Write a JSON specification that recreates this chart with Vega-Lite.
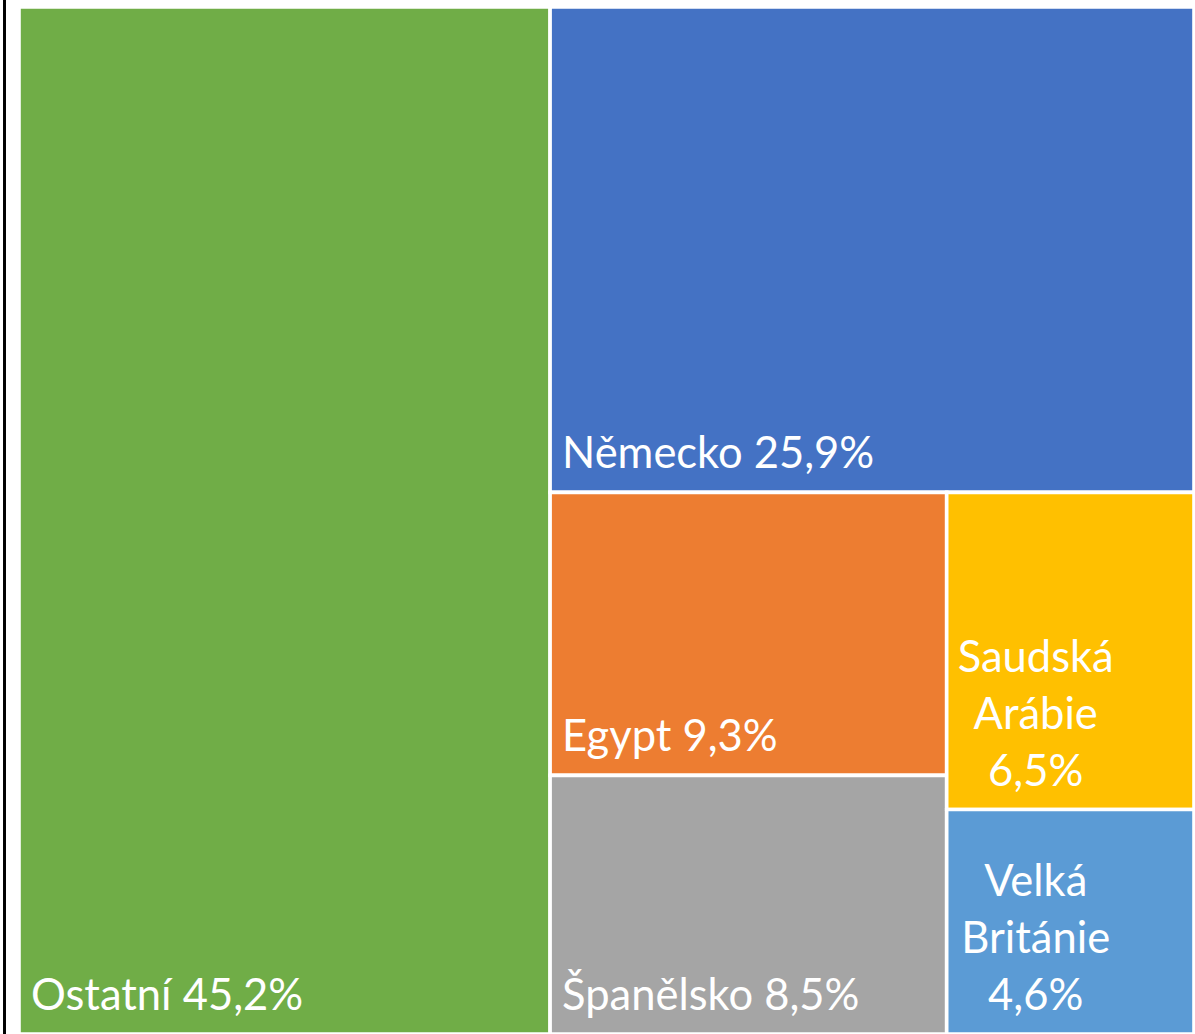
{
  "$schema": "https://vega.github.io/schema/vega-lite/v6.json",
  "width": 1175,
  "height": 1027,
  "autosize": {"type": "none"},
  "padding": {"left": 19, "top": 7, "right": 1, "bottom": 0},
  "background": "white",
  "config": {"view": {"stroke": null}},
  "data": {
    "values": [
      {"zeme": "Ostatní", "podil": 45.2, "poradi": 1, "sloupec": "A", "rada": "A", "blok": "A", "popisek": "Ostatní 45,2%"},
      {"zeme": "Německo", "podil": 25.9, "poradi": 2, "sloupec": "B", "rada": "B-horni", "blok": "B-horni", "popisek": "Německo 25,9%"},
      {"zeme": "Egypt", "podil": 9.3, "poradi": 3, "sloupec": "B", "rada": "B-dolni", "blok": "B-dolni-1", "popisek": "Egypt 9,3%"},
      {"zeme": "Španělsko", "podil": 8.5, "poradi": 4, "sloupec": "B", "rada": "B-dolni", "blok": "B-dolni-1", "popisek": "Španělsko 8,5%"},
      {"zeme": "Saudská Arábie", "podil": 6.5, "poradi": 5, "sloupec": "B", "rada": "B-dolni", "blok": "B-dolni-2", "popisek": "Saudská\nArábie\n6,5%"},
      {"zeme": "Velká Británie", "podil": 4.6, "poradi": 6, "sloupec": "B", "rada": "B-dolni", "blok": "B-dolni-2", "popisek": "Velká\nBritánie\n4,6%"}
    ]
  },
  "transform": [
    {"window": [{"op": "sum", "field": "podil", "as": "kum"}], "sort": [{"field": "poradi"}], "frame": [null, 0]},
    {"calculate": "datum.kum - datum.podil", "as": "start"},
    {"joinaggregate": [{"op": "min", "field": "start", "as": "sS"}, {"op": "sum", "field": "podil", "as": "sSum"}], "groupby": ["sloupec"]},
    {"joinaggregate": [{"op": "min", "field": "start", "as": "rS"}, {"op": "sum", "field": "podil", "as": "rSum"}], "groupby": ["rada"]},
    {"joinaggregate": [{"op": "min", "field": "start", "as": "bS"}, {"op": "sum", "field": "podil", "as": "bSum"}], "groupby": ["blok"]},
    {"calculate": "(datum.rS - datum.sS) / datum.sSum", "as": "ry0"},
    {"calculate": "datum.rSum / datum.sSum", "as": "rh"},
    {"calculate": "datum.sS + (datum.bS - datum.rS) / datum.rh", "as": "x0"},
    {"calculate": "datum.bSum / datum.rh", "as": "bw"},
    {"calculate": "datum.x0 + datum.bw", "as": "x1"},
    {"calculate": "datum.ry0 + (datum.start - datum.bS) / datum.bw", "as": "y0"},
    {"calculate": "datum.y0 + datum.podil / datum.bw", "as": "y1"}
  ],
  "layer": [
    {
      "mark": {"type": "rect", "stroke": "white", "strokeWidth": 3.6},
      "encoding": {
        "x": {"field": "x0", "type": "quantitative", "scale": {"domain": [0, 100], "nice": false, "zero": false}, "axis": null},
        "x2": {"field": "x1"},
        "y": {"field": "y0", "type": "quantitative", "scale": {"domain": [0, 1], "nice": false, "zero": false, "reverse": true}, "axis": null},
        "y2": {"field": "y1"},
        "color": {
          "field": "zeme",
          "type": "nominal",
          "scale": {
            "domain": ["Ostatní", "Německo", "Egypt", "Španělsko", "Saudská Arábie", "Velká Británie"],
            "range": ["#70AD47", "#4472C4", "#ED7D31", "#A5A5A5", "#FFC000", "#5B9BD5"]
          },
          "legend": null
        },
        "tooltip": [{"field": "zeme", "type": "nominal"}, {"field": "podil", "type": "quantitative"}]
      }
    },
    {
      "transform": [{"filter": "indexof(datum.popisek, '\\n') < 0"}],
      "mark": {"type": "text", "align": "left", "baseline": "alphabetic", "dx": 12, "dy": -24, "font": "Lato", "fontSize": 43.5, "color": "white"},
      "encoding": {
        "x": {"field": "x0", "type": "quantitative"},
        "y": {"field": "y1", "type": "quantitative"},
        "text": {"field": "popisek"}
      }
    },
    {
      "transform": [{"filter": "indexof(datum.popisek, '\\n') >= 0"}],
      "mark": {"type": "text", "align": "center", "baseline": "alphabetic", "lineBreak": "\n", "lineHeight": 57, "dx": 89, "dy": -138, "font": "Lato", "fontSize": 43.5, "color": "white"},
      "encoding": {
        "x": {"field": "x0", "type": "quantitative"},
        "y": {"field": "y1", "type": "quantitative"},
        "text": {"field": "popisek"}
      }
    },
    {
      "mark": {"type": "rule", "color": "black", "strokeWidth": 2, "clip": false},
      "encoding": {
        "x": {"datum": -1.234, "type": "quantitative"},
        "y": {"datum": -0.01, "type": "quantitative"},
        "y2": {"datum": 1.01}
      }
    }
  ]
}
